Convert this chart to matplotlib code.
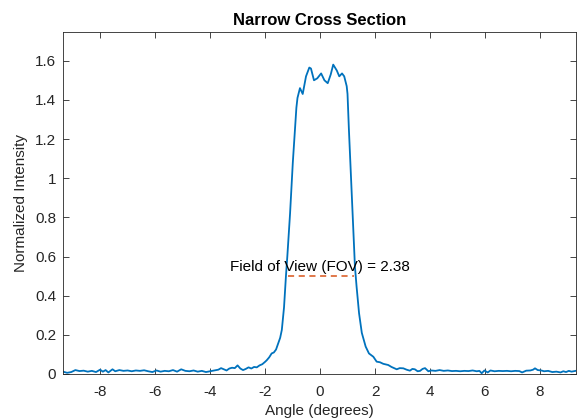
import matplotlib
matplotlib.use("Agg")
import matplotlib.pyplot as plt

plt.rcParams['font.family'] = ['Liberation Sans', 'DejaVu Sans']
plt.rcParams['axes.unicode_minus'] = False

# cross-section samples
angle_deg = [
    -9.35, -9.2, -9.05, -8.9, -8.75, -8.6, -8.45, -8.3, -8.15, -8.0,
    -7.9, -7.8, -7.7, -7.55, -7.45, -7.3, -7.15, -7.0, -6.85, -6.7,
    -6.55, -6.4, -6.25, -6.1, -5.95, -5.8, -5.65, -5.5, -5.35, -5.2,
    -5.05, -4.9, -4.75, -4.6, -4.45, -4.3, -4.15, -4.0, -3.85, -3.7,
    -3.6, -3.5, -3.4, -3.3, -3.2, -3.1, -3.0, -2.9, -2.8, -2.7,
    -2.6, -2.5, -2.4, -2.3, -2.2, -2.1, -2.0, -1.94, -1.85, -1.76,
    -1.68, -1.6, -1.52, -1.45, -1.39, -1.31, -1.24, -1.19, -1.09, -0.99,
    -0.91, -0.86, -0.82, -0.73, -0.63, -0.51, -0.39, -0.33, -0.22, -0.10,
    0.04, 0.16, 0.28, 0.39, 0.48, 0.61, 0.70, 0.80, 0.88, 0.97,
    1.00, 1.03, 1.05, 1.13, 1.21, 1.27, 1.33, 1.42, 1.52, 1.66,
    1.78, 1.94, 2.06, 2.18, 2.30, 2.48, 2.60, 2.70, 2.79, 2.90,
    3.03, 3.15, 3.27, 3.36, 3.45, 3.55, 3.64, 3.73, 3.82, 3.94,
    4.05, 4.2, 4.35, 4.5, 4.65, 4.8, 4.95, 5.1, 5.25, 5.4,
    5.55, 5.7, 5.8, 5.88, 5.98, 6.1, 6.2, 6.35, 6.5, 6.65,
    6.8, 6.95, 7.1, 7.25, 7.35, 7.5, 7.65, 7.75, 7.82, 7.92,
    8.05, 8.15, 8.3, 8.45, 8.6, 8.75, 8.85, 8.95, 9.05, 9.15,
    9.3,
]
intensity = [
    0.012, 0.006, 0.010, 0.020, 0.015, 0.017, 0.012, 0.016, 0.010, 0.022,
    0.012, 0.020, 0.008, 0.024, 0.014, 0.020, 0.016, 0.018, 0.014, 0.018,
    0.016, 0.019, 0.014, 0.010, 0.018, 0.012, 0.016, 0.014, 0.020, 0.012,
    0.024, 0.016, 0.014, 0.018, 0.012, 0.016, 0.010, 0.014, 0.018, 0.022,
    0.030, 0.024, 0.018, 0.028, 0.032, 0.030, 0.044, 0.028, 0.020, 0.026,
    0.034, 0.028, 0.036, 0.034, 0.044, 0.050, 0.062, 0.070, 0.085, 0.105,
    0.110, 0.125, 0.157, 0.185, 0.225, 0.340, 0.500, 0.600, 0.820, 1.080,
    1.250, 1.360, 1.410, 1.460, 1.430, 1.520, 1.565, 1.560, 1.500, 1.510,
    1.535, 1.500, 1.485, 1.530, 1.580, 1.550, 1.520, 1.535, 1.520, 1.470,
    1.430, 1.320, 1.250, 0.990, 0.735, 0.548, 0.446, 0.310, 0.210, 0.140,
    0.105, 0.088, 0.063, 0.060, 0.052, 0.046, 0.036, 0.030, 0.024, 0.030,
    0.029, 0.022, 0.017, 0.026, 0.024, 0.014, 0.016, 0.026, 0.030, 0.014,
    0.018, 0.016, 0.020, 0.016, 0.018, 0.015, 0.016, 0.014, 0.016, 0.015,
    0.018, 0.014, 0.016, 0.004, 0.018, 0.008, 0.018, 0.014, 0.016, 0.015,
    0.016, 0.014, 0.016, 0.015, 0.008, 0.017, 0.018, 0.022, 0.029, 0.020,
    0.018, 0.014, 0.016, 0.010, 0.012, 0.008, 0.014, 0.010, 0.016, 0.012,
    0.016,
]

fov_edges = [-1.15, 1.23]
fov_level = 0.5
fov_label = "Field of View (FOV) = 2.38"

x_ticks = [-8, -6, -4, -2, 0, 2, 4, 6, 8]
y_ticks = [0, 0.2, 0.4, 0.6, 0.8, 1.0, 1.2, 1.4, 1.6]
y_tick_labels = ["0", "0.2", "0.4", "0.6", "0.8", "1", "1.2", "1.4", "1.6"]

fig = plt.figure(figsize=(5.77, 4.19), dpi=100)
ax = fig.add_axes([0.1092, 0.1074, 0.8885, 0.8155])

ax.plot(angle_deg, intensity, color='#0072BD', lw=1.3)
ax.plot(fov_edges, [fov_level, fov_level], color='#D95319', lw=1.1, ls=(0, (4, 3)))
ax.text(0.0, 0.548, fov_label, ha='center', va='center', fontsize=11, color='black')

ax.set_xlim(-9.35, 9.3)
ax.set_ylim(0, 1.745)
ax.set_xticks(x_ticks)
ax.set_xticklabels([str(t) for t in x_ticks])
ax.set_yticks(y_ticks)
ax.set_yticklabels(y_tick_labels)

ax.tick_params(direction='in', length=4, width=0.6, colors='#262626', labelsize=11,
               top=True, right=True, labeltop=False, labelright=False)
ax.tick_params(axis='x', pad=8)
ax.tick_params(axis='y', pad=5)
for s in ax.spines.values():
    s.set_color('#262626')
    s.set_linewidth(0.6)

ax.set_title("Narrow Cross Section", fontsize=12, fontweight='bold', pad=5.5)
ax.set_xlabel("Angle (degrees)", fontsize=11, color='#262626', labelpad=3.5)
ax.set_ylabel("Normalized Intensity", fontsize=11, color='#262626', labelpad=5)

fig.savefig("out.png", dpi=100)
